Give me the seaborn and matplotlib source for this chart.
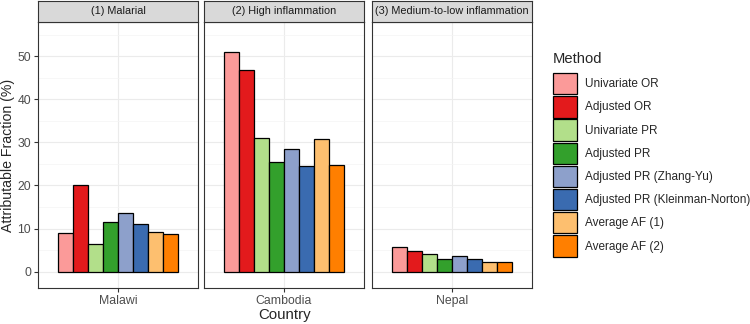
import pandas as pd
import matplotlib.pyplot as plt
import seaborn as sns
from matplotlib.patches import Patch
from matplotlib.ticker import MultipleLocator

# 数据
countries = ['Malawi', 'Cambodia', 'Nepal']
strip_labels = ['(1) Malarial', '(2) High inflammation', '(3) Medium-to-low inflammation']
methods = ['Univariate OR', 'Adjusted OR', 'Univariate PR', 'Adjusted PR',
           'Adjusted PR (Zhang-Yu)', 'Adjusted PR (Kleinman-Norton)',
           'Average AF (1)', 'Average AF (2)']
malawi = [9.0, 20.0, 6.3, 11.4, 13.5, 11.1, 9.1, 8.8]
cambodia = [51.0, 46.7, 31.0, 25.4, 28.4, 24.6, 30.8, 24.7]
nepal = [5.8, 4.7, 4.2, 2.9, 3.6, 3.0, 2.2, 2.3]
colors = ['#FB9A99', '#E31A1C', '#B2DF8A', '#33A02C',
          '#8DA0CB', '#3A6BB0', '#FDBF6F', '#FF7F00']

rows = []
for c, vals in zip(countries, [malawi, cambodia, nepal]):
    for m, v in zip(methods, vals):
        rows.append({'country': c, 'method': m, 'af': v})
df = pd.DataFrame(rows)

sns.set_style('white')
plt.rcParams['font.family'] = ['Liberation Sans', 'DejaVu Sans']

fig = plt.figure(figsize=(7.5, 3.24), dpi=100)
W, H = 750, 324
lefts = [38, 204, 372]
pw = 160
top, bottom = 22, 288

for i, c in enumerate(countries):
    ax = fig.add_axes([lefts[i] / W, 1 - bottom / H, pw / W, (bottom - top) / H])
    sub = df[df['country'] == c]
    sns.barplot(data=sub, x='country', y='af', hue='method', hue_order=methods,
                palette=colors, width=0.9, edgecolor='black', linewidth=0.9,
                legend=False, ax=ax, errorbar=None, saturation=1)
    ax.set_xlim(-0.6, 0.6)
    ax.set_ylim(-3.8, 57.9)
    ax.yaxis.set_major_locator(MultipleLocator(10))
    ax.yaxis.set_minor_locator(MultipleLocator(5))
    ax.grid(True, which='major', color='#EBEBEB', linewidth=0.8)
    ax.grid(True, which='minor', axis='y', color='#F4F4F4', linewidth=0.5)
    ax.set_axisbelow(True)
    for s in ax.spines.values():
        s.set_color('#333333')
        s.set_linewidth(0.8)
        s.set_visible(True)
    ax.tick_params(axis='both', which='major', length=3, width=0.8, color='#333333',
                   labelsize=8.8, labelcolor='#4D4D4D', pad=2, bottom=True, left=(i == 0))
    ax.tick_params(axis='y', which='minor', length=0)
    ax.set_xlabel('')
    ax.set_ylabel('')
    if i > 0:
        ax.set_yticklabels([])
        ax.tick_params(axis='y', length=0)
    # 分面标题
    sax = fig.add_axes([lefts[i] / W, 1 - top / H, pw / W, 21 / H])
    sax.set_xticks([])
    sax.set_yticks([])
    sax.set_facecolor('#D9D9D9')
    for s in sax.spines.values():
        s.set_color('#333333')
        s.set_linewidth(0.8)
    sax.text(0.5, 0.5, strip_labels[i], ha='center', va='center', fontsize=7.8,
             color='#1A1A1A', transform=sax.transAxes)

fig.text(8 / W, 1 - 155 / H, 'Attributable Fraction (%)', rotation=90,
         ha='center', va='center', fontsize=10.2)
fig.text(285 / W, 1 - 315 / H, 'Country', ha='center', va='center', fontsize=10.8)

# 图例
fig.text(553 / W, 1 - 59 / H, 'Method', ha='left', va='center', fontsize=10.6)
handles = [Patch(facecolor=col, edgecolor='black', linewidth=0.9) for col in colors]
leg = fig.legend(handles, methods, loc='upper left',
                 bbox_to_anchor=(553 / W, 1 - 73 / H), frameon=False,
                 fontsize=8.5, handlelength=2.0, handleheight=2.4,
                 labelspacing=0.16, handletextpad=0.7, borderaxespad=0, borderpad=0)

plt.savefig('out.png', dpi=100)
